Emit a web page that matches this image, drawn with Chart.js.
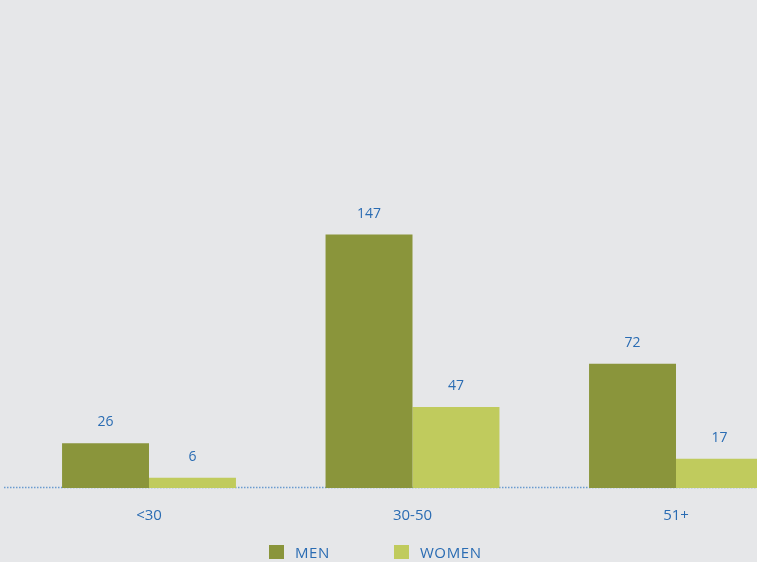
<!DOCTYPE html>
<html lang="en">
<head>
  <meta charset="UTF-8">
  <title>Men and women by age group</title>
  <script src="https://cdn.jsdelivr.net/npm/chart.js"></script>
  <style>
    html, body { margin: 0; padding: 0; background: #e6e7e9; overflow: hidden; }
    .wrap { position: relative; width: 757px; height: 562px; }
    .legend { position: absolute; top: 544px; left: 269px; display: flex; font-family: "Open Sans", sans-serif;
      font-size: 15px; color: #2a6cb3; letter-spacing: 0.6px; line-height: 16px; }
    .legend span.item { display: flex; align-items: center; margin-right: 64px; }
    .legend span.box { width: 15px; height: 14px; margin-right: 11px; display: inline-block; }
  </style>
</head>
<body>
  <div class="wrap">
    <canvas id="ageChart" width="757" height="562"></canvas>
    <div class="legend" id="legend"></div>
  </div>

  <script>
    // dados
    const categories = ['<30', '30-50', '51+'];
    const men = [26, 147, 72];
    const women = [6, 47, 17];
    const seriesNames = ['MEN', 'WOMEN'];
    const seriesColors = ['#8a953b', '#c0cb5d'];

    const textBlue = '#2a6cb3';

    // linha pontilhada da base, atrás das barras
    const dottedBase = {
      id: 'dottedBase',
      beforeDatasetsDraw(chart) {
        const ctx = chart.ctx;
        const y = chart.scales.y.getPixelForValue(0) - 0.5;
        ctx.save();
        ctx.strokeStyle = '#6a9bd0';
        ctx.lineWidth = 1.5;
        ctx.setLineDash([1.5, 1.5]);
        ctx.beginPath();
        ctx.moveTo(4, y);
        ctx.lineTo(chart.width, y);
        ctx.stroke();
        ctx.restore();
      }
    };

    // rótulos de valor acima das barras
    const valueLabels = {
      id: 'valueLabels',
      afterDatasetsDraw(chart) {
        const ctx = chart.ctx;
        ctx.save();
        ctx.font = '14px "Open Sans"';
        ctx.fillStyle = textBlue;
        ctx.textAlign = 'center';
        ctx.textBaseline = 'middle';
        chart.data.datasets.forEach((ds, i) => {
          chart.getDatasetMeta(i).data.forEach((bar, j) => {
            ctx.fillText(ds.data[j].y, bar.x, bar.y - 21);
          });
        });
        ctx.restore();
      }
    };

    const toPoints = arr => arr.map((v, i) => ({ x: i, y: v }));

    new Chart(document.getElementById('ageChart'), {
      type: 'bar',
      data: {
        datasets: [
          { label: seriesNames[0], data: toPoints(men), backgroundColor: seriesColors[0] },
          { label: seriesNames[1], data: toPoints(women), backgroundColor: seriesColors[1] }
        ]
      },
      options: {
        responsive: false,
        animation: false,
        categoryPercentage: 0.66,
        barPercentage: 1,
        layout: { padding: { top: 0, bottom: 18, left: 0, right: 0 } },
        plugins: {
          legend: { display: false },
          tooltip: { enabled: false }
        },
        scales: {
          x: {
            type: 'linear',
            offset: false,
            min: -0.5655,
            max: 2.3074,
            grid: { display: false, drawTicks: false, offset: false },
            border: { display: false },
            ticks: {
              stepSize: 1,
              includeBounds: false,
              autoSkip: false,
              maxRotation: 0,
              padding: 19,
              color: textBlue,
              font: { family: 'Open Sans', size: 15 },
              callback: v => categories[v] ?? ''
            }
          },
          y: {
            display: false,
            min: 0,
            max: 283
          }
        }
      },
      plugins: [dottedBase, valueLabels]
    });

    // legenda em HTML
    const legend = document.getElementById('legend');
    seriesNames.forEach((name, i) => {
      const item = document.createElement('span');
      item.className = 'item';
      item.innerHTML = '<span class="box" style="background:' + seriesColors[i] + '"></span>' + name;
      legend.appendChild(item);
    });
  </script>
</body>
</html>
